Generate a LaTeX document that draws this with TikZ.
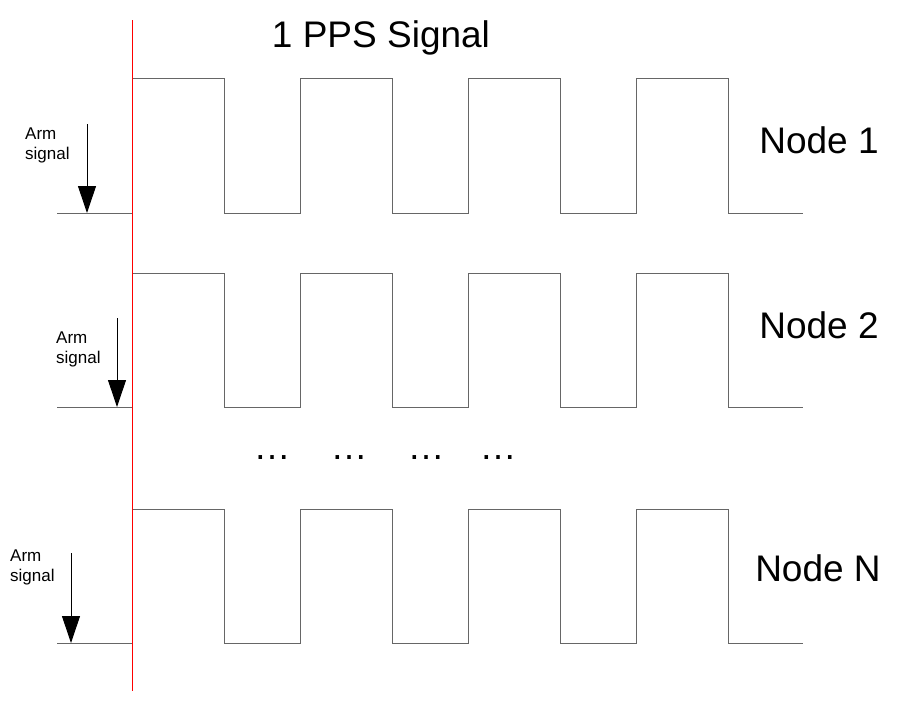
\documentclass[tikz,border=0pt]{standalone}
\usepackage{fontspec}
\setmainfont{Liberation Sans}
\usepackage{tikz}
\usetikzlibrary{positioning}
\usetikzlibrary{arrows.meta}

\begin{document}
\begin{tikzpicture}[x=1pt, y=-1pt,
    wave/.style={draw=black!60, line width=1pt},
    arm/.style={-{Triangle[width=18pt, length=27pt]}, line width=1pt},
    big/.style={font=\fontsize{37}{44}\selectfont, inner sep=0pt, anchor=base},
    small/.style={font=\fontsize{17}{20}\selectfont, align=left, inner sep=0pt, anchor=north west}]
    \useasboundingbox (0,0) rectangle (899,715);

    % square waves
    \foreach \hi/\lo in {78/213, 273/407, 509/643} {
        \draw[wave] (57,\lo)
            \foreach \r in {132,300,468,636} {
                -- (\r,\lo) -- (\r,\hi) -- (\r+92,\hi) -- (\r+92,\lo)
            } -- (803,\lo);
    }

    % trigger line
    \coordinate (ppstop) at (132,20);
    \coordinate (ppsbot) at (132,691);
    \draw[red, line width=1pt] (ppstop) -- (ppsbot);

    \node[big] (title) at (381,47) {1 PPS Signal};
    \node[big] (node1) at (819,153) {Node 1};
    \node[big] (node2) at (819,338) {Node 2};
    \node[big] (nodeN) at (818,581) {Node N};

    \node[big] (dots1) at (272,459) {…};
    \node[big] (dots2) at (349,459) {…};
    \node[big] (dots3) at (426,459) {…};
    \node[big] (dots4) at (498,459) {…};

    % arm signals
    \node[small] (arm1) at (25,128) {Arm\\signal};
    \node[small] (arm2) at (56,332) {Arm\\signal};
    \node[small] (armN) at (10,550) {Arm\\signal};

    \coordinate (arm1top) at (87,124);
    \coordinate (arm1bot) at (87,213);
    \coordinate (arm2top) at (117,318);
    \coordinate (arm2bot) at (117,407);
    \coordinate (armNtop) at (71,553);
    \coordinate (armNbot) at (71,643);
    \draw[arm] (arm1top) -- (arm1bot);
    \draw[arm] (arm2top) -- (arm2bot);
    \draw[arm] (armNtop) -- (armNbot);
\end{tikzpicture}
\end{document}
